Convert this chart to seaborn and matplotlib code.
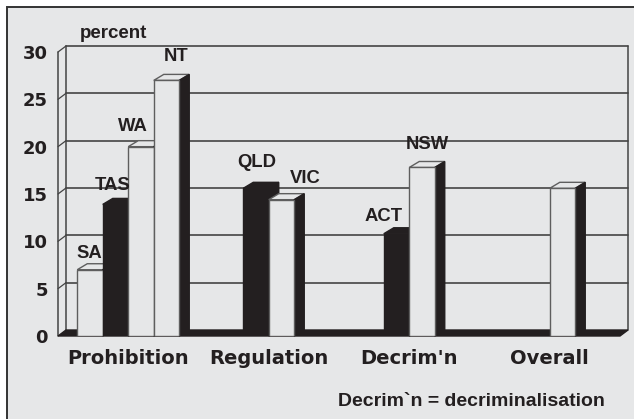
import matplotlib
matplotlib.use("Agg")
import matplotlib.pyplot as plt
from matplotlib.patches import Polygon, Rectangle
import pandas as pd
import seaborn as sns

# ---- data -------------------------------------------------------------
categories = ["Prohibition", "Regulation", "Decrim'n", "Overall"]
states = ["SA", "TAS", "WA", "NT", "QLD", "VIC", "ACT", "NSW", ""]
regime = ["Prohibition"] * 4 + ["Regulation"] * 2 + ["Decrim'n"] * 2 + ["Overall"]
slot = ["s1", "s2", "s3", "s4", "s2", "s3", "s2", "s3", "s3"]
percent = [7.0, 13.9, 20.0, 27.0, 15.6, 14.4, 10.8, 17.8, 15.6]
y_ticks = [0, 5, 10, 15, 20, 25, 30]

slot_order = ["s1", "s2", "s3", "s4"]

# ---- styling ----------------------------------------------------------
BG = "#e6e7e8"
INK = "#231f20"
EDGE = "#5e5e5e"
GRID = "#444444"
palette = {"s1": BG, "s2": INK, "s3": BG, "s4": BG}

# label nudges (pixels): horizontal shift, gap above bar top
label_nudge = {"SA": (-1, 8), "TAS": (-3, 10), "WA": (-8, 12), "NT": (10, 15),
               "QLD": (1, 17), "VIC": (24, 13), "ACT": (-13, 9), "NSW": (5, 14)}

sns.set_style("white")
plt.rcParams["font.family"] = ["DejaVu Sans"]

W, H = 634, 419
fig = plt.figure(figsize=(W / 100, H / 100), dpi=100)
fig.patch.set_facecolor("white")
fig.add_artist(Rectangle((7 / W, -0.1), 1.2, (H - 7) / H + 0.1,
                         transform=fig.transFigure, facecolor=BG,
                         edgecolor="#333333", lw=1.4, zorder=0))

ax_l, ax_r, ax_t, ax_b = 58, 620, 52, 336
ax = fig.add_axes([ax_l / W, (H - ax_b) / H, (ax_r - ax_l) / W, (ax_b - ax_t) / H])
ax.set_facecolor("none")

df = pd.DataFrame({"regime": regime, "slot": slot, "percent": percent, "state": states})
sns.barplot(data=df, x="regime", y="percent", hue="slot", order=categories,
            hue_order=slot_order, palette=palette, saturation=1, width=0.726,
            errorbar=None, legend=False, ax=ax)

ax.set_xlim(-0.5, 3.5)
ax.set_ylim(0, 30)

# depth of the 3-D effect in data units
px_x = (ax_r - ax_l) / 4.0
px_y = (ax_b - ax_t) / 30.0
dxw, dyw = 8 / px_x, 6 / px_y      # walls
dxb, dyb = 10 / px_x, 6 / px_y     # bars

# back wall gridlines and left wall connectors
for v in y_ticks[1:]:
    ax.plot([-0.5 + dxw, 3.5 + dxw], [v + dyw, v + dyw], color=GRID, lw=1.2,
            zorder=1, clip_on=False)
    ax.plot([-0.5, -0.5 + dxw], [v, v + dyw], color=GRID, lw=0.9,
            zorder=1, clip_on=False)
ax.plot([-0.5 + dxw] * 2, [dyw, 30 + dyw], color=GRID, lw=1.1, zorder=1, clip_on=False)
ax.plot([3.5 + dxw] * 2, [dyw, 30 + dyw], color=GRID, lw=1.1, zorder=1, clip_on=False)
ax.plot([-0.5] * 2, [0, 30], color=GRID, lw=1.1, zorder=1, clip_on=False)

# black floor
ax.add_patch(Polygon([(-0.5, 0), (3.5, 0), (3.5 + dxw, dyw), (-0.5 + dxw, dyw)],
                     closed=True, facecolor=INK, edgecolor=INK, lw=1,
                     zorder=2, clip_on=False))

# extrude the bars
bars = sorted([p for p in ax.patches if isinstance(p, Rectangle) and p.get_height() > 0],
              key=lambda p: p.get_x())
for i, p in enumerate(bars):
    x0, w, h = p.get_x(), p.get_width(), p.get_height()
    dark = p.get_facecolor()[0] < 0.5
    base = 5 + 2 * i
    p.set_zorder(base + 1)
    p.set_edgecolor(INK if dark else EDGE)
    p.set_linewidth(1.0)
    top = Polygon([(x0, h), (x0 + w, h), (x0 + w + dxb, h + dyb), (x0 + dxb, h + dyb)],
                  closed=True, facecolor=INK if dark else BG,
                  edgecolor=INK if dark else EDGE, lw=1.0, zorder=base, clip_on=False)
    side = Polygon([(x0 + w, 0), (x0 + w + dxb, dyb), (x0 + w + dxb, h + dyb), (x0 + w, h)],
                   closed=True, facecolor=INK, edgecolor=INK, lw=1.0,
                   zorder=base, clip_on=False)
    ax.add_patch(top)
    ax.add_patch(side)

    # state label
    cat = int(round(x0 + w / 2))
    match = df[(df["regime"] == categories[cat]) & (df["percent"] == h)]
    name = match["state"].iloc[0] if len(match) else ""
    if name:
        nx, gap = label_nudge.get(name, (0, 10))
        ax.annotate(name, xy=(x0 + w / 2, h), xytext=(nx, gap),
                    textcoords="offset pixels", ha="center", va="bottom",
                    fontsize=13.3, fontweight="bold", family="Liberation Sans",
                    color=INK, zorder=40, annotation_clip=False)

# axes
for s in ax.spines.values():
    s.set_visible(False)
ax.set_yticks(y_ticks)
ax.set_yticklabels([str(v) for v in y_ticks])
ax.tick_params(axis="y", length=3.6, width=1, color=GRID, pad=3.6,
               labelsize=13, labelcolor=INK)
for t in ax.get_yticklabels():
    t.set_fontweight("bold")

ax.set_xticks(range(len(categories)))
ax.set_xticklabels(categories)
ax.set_xticks([-0.5, 0.5, 1.5, 2.5, 3.5], minor=True)
ax.tick_params(axis="x", which="major", length=0, pad=9, labelsize=14, labelcolor=INK)
ax.tick_params(axis="x", which="minor", length=4, width=1, color=GRID)
for t in ax.get_xticklabels():
    t.set_fontweight("bold")
ax.set_xlabel("")
ax.set_ylabel("")

fig.text(80 / W, (H - 38) / H, "percent", fontsize=13.5, fontweight="bold",
         family="Liberation Sans", color=INK, ha="left", va="baseline")
fig.text(338 / W, (H - 406) / H, "Decrim`n = decriminalisation", fontsize=14,
         fontweight="bold", family="Liberation Sans", color=INK,
         ha="left", va="baseline")

fig.savefig("out.png", dpi=100, facecolor=fig.get_facecolor())
